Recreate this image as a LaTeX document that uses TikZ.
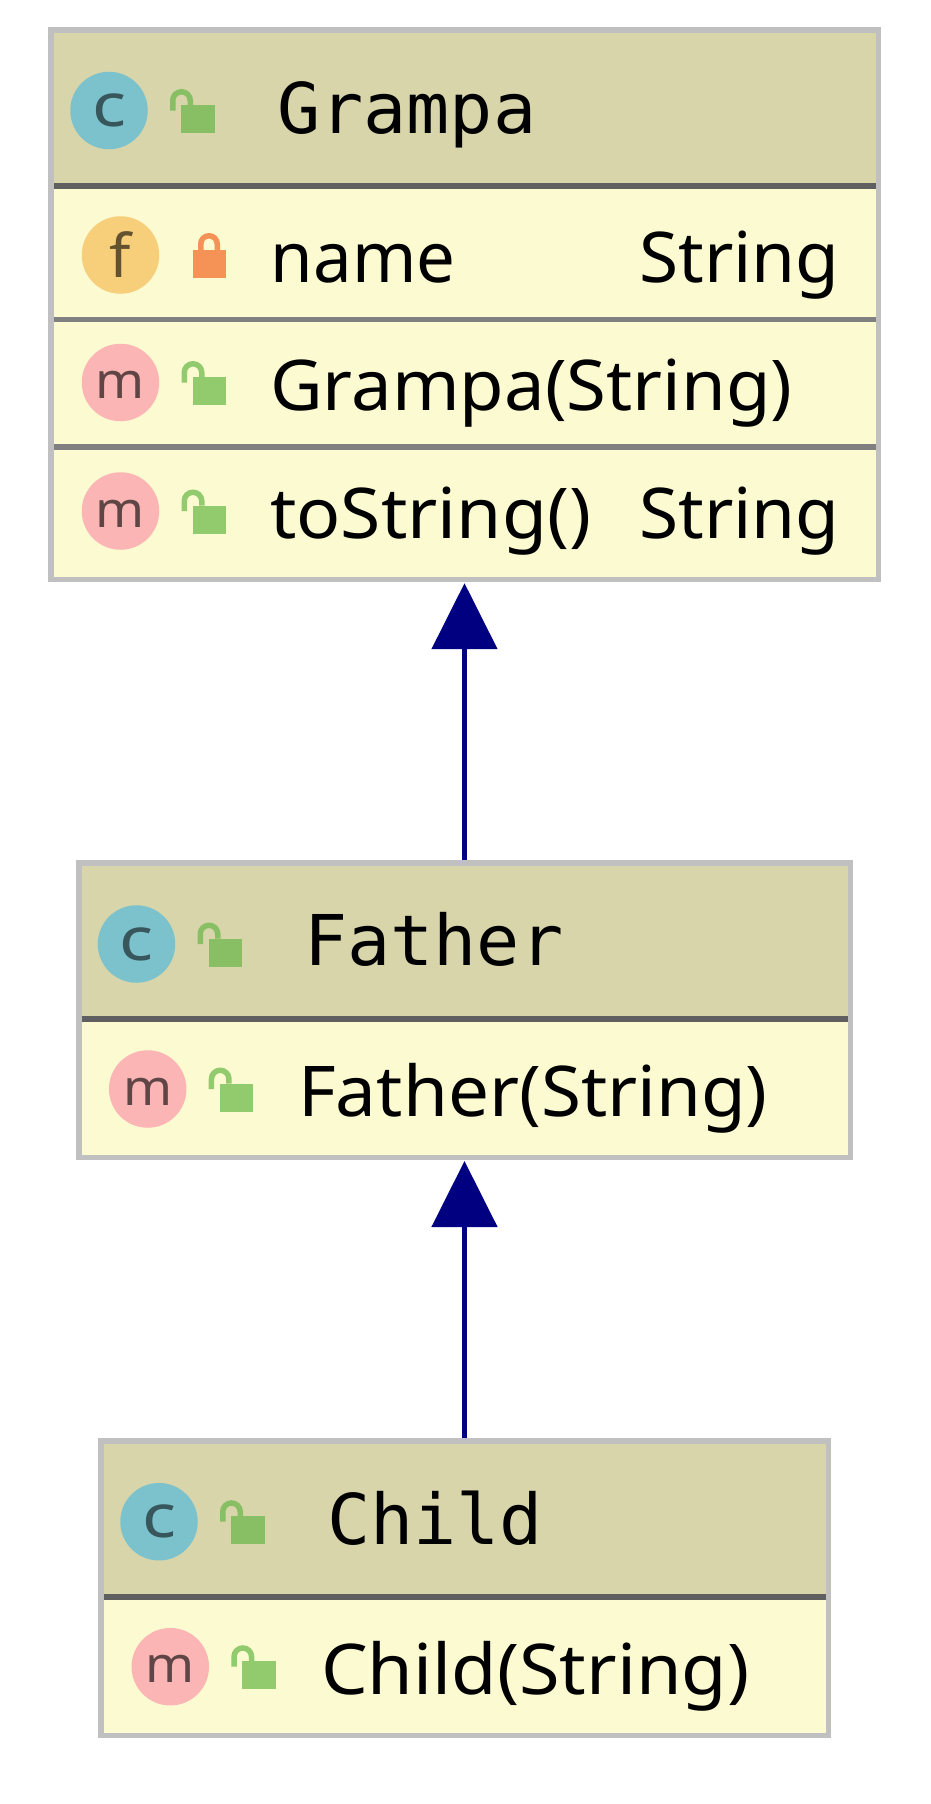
\documentclass[tikz,border=0pt]{standalone}
\usepackage{fontspec}
\usetikzlibrary{arrows.meta}
\setmainfont[FakeStretch=1.035]{Noto Sans}
\newfontfamily\monotitle[FakeStretch=1.025]{DejaVu Sans Mono}
\newfontfamily\classletter[FakeStretch=1.18]{Noto Sans}
\newfontfamily\methodletter[FakeStretch=1.05]{Noto Sans}
\definecolor{boxgrey}{HTML}{C0C0C0}
\definecolor{bodyfill}{HTML}{FCFAD1}
\definecolor{headfill}{HTML}{D8D5AB}
\definecolor{sepdark}{HTML}{5F5F5F}
\definecolor{seplight}{HTML}{808080}
\definecolor{classblue}{HTML}{7CC2CC}
\definecolor{fieldgold}{HTML}{F7CE79}
\definecolor{methodpink}{HTML}{FBB5B5}
\definecolor{lockhead}{HTML}{88BF64}
\definecolor{lockbody}{HTML}{92CB6E}
\definecolor{lockorange}{HTML}{F59357}
\definecolor{inheritblue}{HTML}{000080}
\tikzset{
  classbox/.style={draw=boxgrey,fill=bodyfill,line width=5.5pt,inner sep=0pt,minimum width=#1},
  badge/.style={circle,inner sep=0pt,minimum size=77.5pt},
  classbadge/.style={badge,fill=classblue,text=classblue!45!black,font=\classletter\fontsize{60pt}{70pt}\selectfont},
  fieldbadge/.style={badge,fill=fieldgold,text=fieldgold!40!black,font=\fontsize{60pt}{70pt}\selectfont},
  methodbadge/.style={badge,fill=methodpink,text=methodpink!38!black,font=\methodletter\fontsize{50pt}{60pt}\selectfont},
  titletext/.style={anchor=base west,inner sep=0pt,font=\monotitle\fontsize{70pt}{84pt}\selectfont},
  membertext/.style={anchor=base west,inner sep=0pt,font=\fontsize{70pt}{84pt}\selectfont},
  inherit/.style={draw=inheritblue,line width=5pt,shorten >=1pt,-{Triangle[length=66pt,width=65pt]}}
}
\newcommand{\openlock}[3]{%
  \fill[#3] (#1+72,#2-5.5) rectangle (#1+105.5,#2+22.5);
  \draw[#3,line width=5.5pt] (#1+63.75,#2) -- (#1+63.75,#2-10) arc (180:360:8.75) -- (#1+81.25,#2-5.5);
}
\newcommand{\lowm}{\raisebox{-2.5pt}[\height][0pt]{m}}
\newcommand{\widen}[2]{\scalebox{#1}[1]{#2}}
\begin{document}
\begin{tikzpicture}[x=1pt,y=-1pt]
      \useasboundingbox (0,0) rectangle (930,1804);
      \node[classbox=827.5pt,minimum height=549.5pt] (grampa) at (464.5,304.7) {};
      \node[classbox=771.5pt,minimum height=294.5pt] (father) at (464.5,1010) {};
      \node[classbox=727.5pt,minimum height=294.5pt] (child) at (464.5,1588) {};
      \fill[headfill] (54,33) rectangle (876,183);
      \fill[headfill] (81.5,865.5) rectangle (847.5,1016);
      \fill[headfill] (103.5,1443.5) rectangle (825.5,1594);
      \draw[sepdark,line width=6pt] (54,186) -- (876,186);
      \draw[seplight,line width=5pt] (54,319.5) -- (876,319.5);
      \draw[seplight,line width=5.5pt] (54,447) -- (876,447);
      \draw[sepdark,line width=6pt] (81.5,1019) -- (847.5,1019);
      \draw[sepdark,line width=6pt] (103.5,1597) -- (825.5,1597);
      \node[classbadge] (grampaC) at (109,110.5) {c};
      \node[fieldbadge] (nameF) at (120.5,255) {f};
      \node[methodbadge] (grampaM) at (120.5,382.5) {\lowm};
      \node[methodbadge] (tostringM) at (120.5,511) {\lowm};
      \node[classbadge] (fatherC) at (136.5,944) {c};
      \node[methodbadge] (fatherM) at (147.7,1089) {\lowm};
      \node[classbadge] (childC) at (159,1521.7) {c};
      \node[methodbadge] (childM) at (170.3,1666.7) {\lowm};
      \openlock{109}{110.5}{lockhead}
      \openlock{120.5}{382.5}{lockbody}
      \openlock{120.5}{511}{lockbody}
      \openlock{136.5}{944}{lockhead}
      \openlock{147.7}{1089}{lockbody}
      \openlock{159}{1521.7}{lockhead}
      \openlock{170.3}{1666.7}{lockbody}
      \fill[lockorange] (193,250) rectangle (226,277.7);
      \draw[lockorange,line width=5.5pt] (200.75,250) -- (200.75,244) arc (180:360:8.25) -- (217.25,250);
      \node[titletext] (grampaT) at (277,133) {Grampa};
      \node[titletext] (fatherT) at (304,965) {Father};
      \node[titletext] (childT) at (327,1544) {Child};
      \node[membertext] (nameL) at (270.5,282.5) {\widen{.952}{name}};
      \node[membertext] (nameR) at (639,282.5) {\widen{.983}{String}};
      \node[membertext] (grampaL) at (270,410) {Grampa(String)};
      \node[membertext] (tostringL) at (270,538) {\widen{1.011}{toString()}};
      \node[membertext] (tostringR) at (639,538) {\widen{.983}{String}};
      \node[membertext] (fatherL) at (298,1116) {\widen{1.005}{Father(String)}};
      \node[membertext] (childL) at (321,1694) {\widen{1.02}{Child(String)}};
      \draw[inherit] (father.north) -- (grampa.south);
      \draw[inherit] (child.north) -- (father.south);
    \end{tikzpicture}
\end{document}
